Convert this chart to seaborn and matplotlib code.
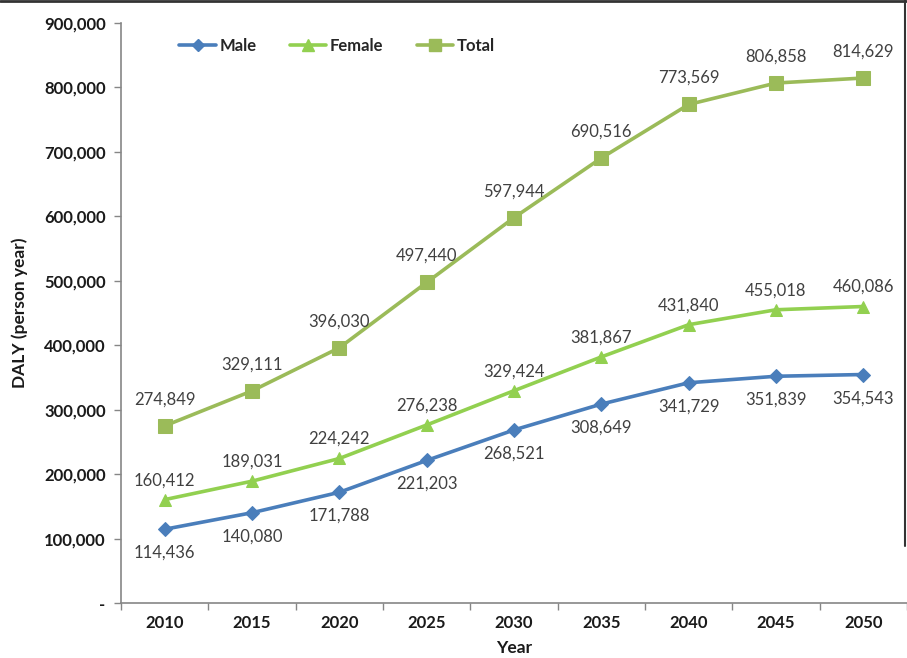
import matplotlib
matplotlib.use("Agg")
import matplotlib.pyplot as plt
import matplotlib.ticker as mticker
from matplotlib.lines import Line2D
import seaborn as sns
import pandas as pd

years = [2010, 2015, 2020, 2025, 2030, 2035, 2040, 2045, 2050]
male = [114436, 140080, 171788, 221203, 268521, 308649, 341729, 351839, 354543]
female = [160412, 189031, 224242, 276238, 329424, 381867, 431840, 455018, 460086]
total = [274849, 329111, 396030, 497440, 597944, 690516, 773569, 806858, 814629]
series_names = ["Male", "Female", "Total"]
y_ticks = [0, 100000, 200000, 300000, 400000, 500000, 600000, 700000, 800000, 900000]

colors = {"Male": "#4a7ebb", "Female": "#92d050", "Total": "#9bbb59"}
markers = {"Male": "D", "Female": "^", "Total": "s"}
msizes = {"Male": 7, "Female": 9, "Total": 10}

df = pd.DataFrame({
    "Year": years * 3,
    "Value": male + female + total,
    "Series": ["Male"] * 9 + ["Female"] * 9 + ["Total"] * 9,
})

sns.set_theme(style="white")
plt.rcParams["font.family"] = ["Lato", "DejaVu Sans"]

fig = plt.figure(figsize=(9.07, 6.58), dpi=100)
ax = fig.add_axes([121 / 907, 1 - 603 / 658, (907 - 121) / 907, (603 - 23) / 658])

for name in series_names:
    sub = df[df["Series"] == name]
    sns.lineplot(data=sub, x="Year", y="Value", ax=ax, color=colors[name],
                 linewidth=2.6, marker=markers[name], markersize=msizes[name],
                 markeredgecolor=colors[name], legend=False)

# data labels
offsets = {"Male": -17, "Female": 14, "Total": 19}
for name, vals in zip(series_names, [male, female, total]):
    for x, v in zip(years, vals):
        ax.annotate(f"{v:,}", (x, v), xytext=(0, offsets[name]), textcoords="offset points",
                    ha="center", va="center", fontsize=12, color="#404040")

ax.set_xlim(2007.5, 2052.5)
ax.set_ylim(0, 900000)
ax.set_xticks(years)
ax.set_xticklabels([str(y) for y in years])
ax.xaxis.set_minor_locator(mticker.FixedLocator([2007.5 + 5 * i for i in range(10)]))
ax.tick_params(axis="x", which="major", length=0, pad=9, labelsize=12)
ax.tick_params(axis="x", which="minor", length=5, width=1, color="#868686", direction="out", bottom=True)
ax.set_yticks(y_ticks)
ax.set_yticklabels(["-" if t == 0 else f"{t:,}" for t in y_ticks])
ax.tick_params(axis="y", length=5, width=1, color="#868686", direction="out", left=True, labelsize=12, pad=6)
for lab in ax.get_xticklabels() + ax.get_yticklabels():
    lab.set_fontweight("bold")
    lab.set_color("#1a1a1a")

for side in ["top", "right"]:
    ax.spines[side].set_visible(False)
for side in ["left", "bottom"]:
    ax.spines[side].set_color("#868686")
    ax.spines[side].set_linewidth(1.2)

ax.set_xlabel("Year", fontsize=12.5, fontweight="bold", color="#1a1a1a")
ax.set_ylabel("DALY (person year)", fontsize=12.5, fontweight="bold", color="#1a1a1a")
ax.yaxis.set_label_coords(-0.118, 0.5)
ax.xaxis.set_label_coords(0.5, -0.063)

handles = [Line2D([0], [0], color=colors[n], linewidth=2.6, marker=markers[n],
                  markersize=msizes[n] - 1, markeredgecolor=colors[n]) for n in series_names]
ax.legend(handles, series_names, loc="upper left", bbox_to_anchor=(0.055, 1.0), ncol=3,
          frameon=False, handlelength=2.2, handletextpad=0.2, columnspacing=2.0,
          prop={"weight": "bold", "size": 12})

# outer frame lines (top and right)
fig.add_artist(Line2D([0, 1], [0.998, 0.998], transform=fig.transFigure, color="#333333", linewidth=2))
fig.add_artist(Line2D([0.998, 0.998], [0.17, 1], transform=fig.transFigure, color="#333333", linewidth=1.5))

fig.savefig("out.png", dpi=100)
